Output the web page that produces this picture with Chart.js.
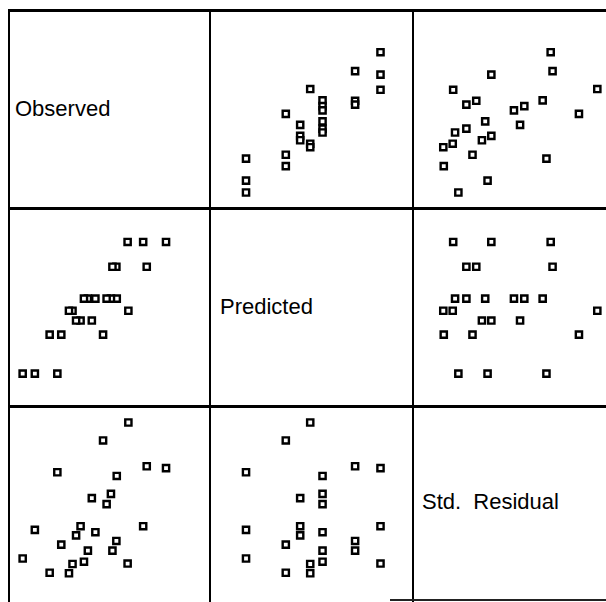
<!DOCTYPE html>
<html>
<head>
<meta charset="utf-8">
<title>Scatterplot matrix</title>
<script src="https://cdn.jsdelivr.net/npm/chart.js@4.4.1/dist/chart.umd.min.js"></script>
<style>
  html, body { margin: 0; padding: 0; background: #fff; }
  body { width: 606px; height: 602px; overflow: hidden; position: relative; }
  canvas { position: absolute; }
  .ln { position: absolute; background: #000; }
  .lbl { position: absolute; font-family: 'Liberation Sans', Arial, Helvetica, sans-serif;
         font-size: 22px; line-height: 22px; color: #000; white-space: pre; }
</style>
</head>
<body>

<!-- frame lines -->
<div class="ln" style="left:8px;top:9px;width:598px;height:3px"></div>
<div class="ln" style="left:8px;top:207px;width:598px;height:3px"></div>
<div class="ln" style="left:8px;top:405px;width:598px;height:3px"></div>
<div class="ln" style="left:8px;top:9px;width:2px;height:593px"></div>
<div class="ln" style="left:209px;top:9px;width:2px;height:593px"></div>
<div class="ln" style="left:412px;top:9px;width:2px;height:593px"></div>
<div class="ln" style="left:390px;top:599px;width:216px;height:2px;background:#222"></div>

<!-- diagonal labels -->
<div class="lbl" style="left:15px;top:98px">Observed</div>
<div class="lbl" style="left:220px;top:296px">Predicted</div>
<div class="lbl" style="left:422px;top:491px">Std.  Residual</div>

<script>
// one value per case
const observed = [80.7, 70.4, 68.5, 60.6, 60.2, 54.4, 54.2, 52.1, 51.3, 49.0, 47.1, 43.0,
                  41.1, 39.0, 36.9, 35.1, 32.7, 30.8, 28.9, 24.8, 22.7, 18.6, 10.7, 4.2];
const predicted = [85.9, 72.5, 85.9, 48.8, 85.9, 55.3, 72.5, 72.5, 55.3, 55.3, 35.9, 55.3,
                   43.5, 55.3, 55.3, 43.5, 43.5, 48.8, 48.8, 35.9, 14.9, 35.9, 14.9, 14.9];
const residual = [0.80, 0.84, -0.46, 1.79, -1.27, 0.63, -0.78, -0.99, 0.24, 0.02, 1.40, -0.59,
                  0.15, -0.99, -1.23, -0.46, -0.66, -1.28, -1.48, -0.86, 0.71, -1.47, -0.54, -1.16];

const varNames = ['Observed', 'Predicted', 'Std. Residual'];
const vars = [observed, predicted, residual];
const varMin = [0, 0, -2];
const varMax = [100, 100, 2];

// panel boxes
const colLeft = [8, 211, 412];
const colWidth = [201, 203, 202];
const rowTop = [10, 209, 406];
const rowHeight = [197, 199, 198];

for (let i = 0; i < 3; i++) {
  for (let j = 0; j < 3; j++) {
    if (i === j) continue;
    const cv = document.createElement('canvas');
    cv.width = colWidth[j];
    cv.height = rowHeight[i];
    cv.style.left = colLeft[j] + 'px';
    cv.style.top = rowTop[i] + 'px';
    cv.style.width = colWidth[j] + 'px';
    cv.style.height = rowHeight[i] + 'px';
    document.body.appendChild(cv);

    const pts = vars[j].map((v, k) => ({ x: v, y: vars[i][k] }));

    new Chart(cv, {
      type: 'scatter',
      data: {
        datasets: [{
          label: varNames[i] + ' vs ' + varNames[j],
          data: pts,
          pointStyle: 'rect',
          pointRadius: 4.4,
          pointBorderWidth: 2.4,
          pointBorderColor: '#000',
          pointBackgroundColor: '#fff',
          clip: false
        }]
      },
      options: {
        responsive: false,
        animation: false,
        events: [],
        layout: { padding: 0 },
        plugins: { legend: { display: false }, tooltip: { enabled: false } },
        scales: {
          x: { type: 'linear', display: false, min: varMin[j], max: varMax[j] },
          y: { type: 'linear', display: false, min: varMin[i], max: varMax[i] }
        }
      }
    });
  }
}
</script>
</body>
</html>
